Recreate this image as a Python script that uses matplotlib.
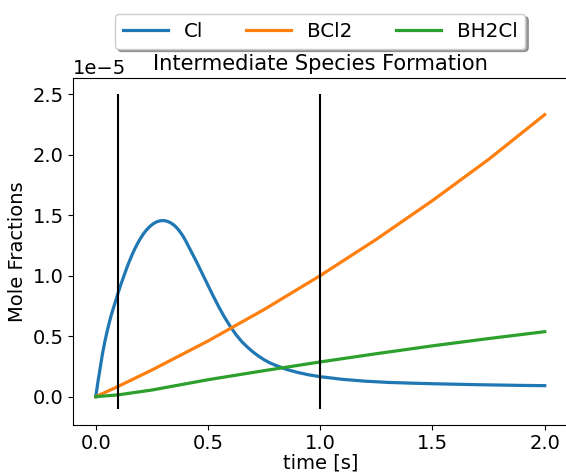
import numpy as np
import matplotlib
matplotlib.use("Agg")
import matplotlib.pyplot as plt

# values (units of 1e-5)
t_cl = [0.0, 0.01, 0.02, 0.03, 0.04, 0.05, 0.06, 0.07, 0.08, 0.09, 0.1, 0.1125, 0.125, 0.1375,
        0.15, 0.1625, 0.175, 0.1875, 0.2, 0.2125, 0.225, 0.2375, 0.25, 0.2625, 0.275, 0.2875, 0.3,
        0.3125, 0.325, 0.3375, 0.35, 0.3625, 0.375, 0.3875, 0.4, 0.425, 0.45, 0.475, 0.5, 0.525,
        0.55, 0.575, 0.6, 0.625, 0.65, 0.675, 0.7, 0.725, 0.75, 0.775, 0.8, 0.85, 0.9, 0.95,
        1.0, 1.1, 1.2, 1.3, 1.4, 1.5, 1.6, 1.7, 1.8, 1.9, 2.0]
cl = [0.0, 0.125, 0.24, 0.355, 0.45, 0.535, 0.61, 0.68, 0.74, 0.80, 0.86, 0.93, 0.995, 1.06,
      1.12, 1.175, 1.225, 1.27, 1.31, 1.345, 1.375, 1.40, 1.42, 1.436, 1.447, 1.453, 1.455,
      1.452, 1.444, 1.432, 1.415, 1.392, 1.363, 1.33, 1.29, 1.20, 1.11, 1.015, 0.92, 0.825,
      0.735, 0.652, 0.578, 0.512, 0.456, 0.41, 0.37, 0.335, 0.305, 0.28, 0.26, 0.225, 0.20, 0.18,
      0.165, 0.143, 0.128, 0.118, 0.112, 0.107, 0.103, 0.099, 0.096, 0.093, 0.091]

t_b = [0.0, 0.1, 0.25, 0.5, 0.75, 1.0, 1.25, 1.5, 1.75, 2.0]
bcl2 = [0.0, 0.085, 0.22, 0.46, 0.72, 1.0, 1.30, 1.62, 1.96, 2.33]
bh2cl = [0.0, 0.015, 0.055, 0.14, 0.215, 0.287, 0.355, 0.42, 0.48, 0.537]

vline_t = [0.1, 1.0]

plt.rcParams['font.size'] = 14
fig = plt.figure(figsize=(5.66, 4.72), dpi=100)
ax = fig.add_axes([0.1295, 0.1006, 0.8726, 0.7335])

ax.plot(t_cl, np.array(cl) * 1e-5, label="Cl", color='#1f77b4', lw=2.3)
ax.plot(t_b, np.array(bcl2) * 1e-5, label="BCl2", color='#ff7f0e', lw=2.3)
ax.plot(t_b, np.array(bh2cl) * 1e-5, label="BH2Cl", color='#2ca02c', lw=2.3)
ax.vlines(vline_t, -0.1e-5, 2.5e-5, color='k', lw=1.5)

ax.set_xlabel("time [s]", labelpad=0)
ax.set_ylabel("Mole Fractions")
ax.set_title("Intermediate Species Formation", fontsize=15.1)
ax.set_xticks([0.0, 0.5, 1.0, 1.5, 2.0])
ax.legend(loc='upper center', bbox_to_anchor=(0.5, 1.215), ncol=3, shadow=True, fancybox=True,
          fontsize=14.3, handlelength=2.27, columnspacing=2.17)

fig.savefig("out.png", dpi=100)
